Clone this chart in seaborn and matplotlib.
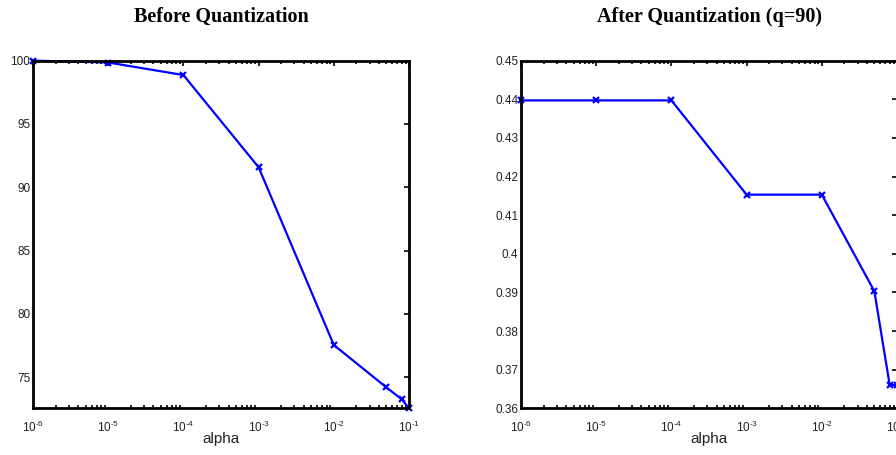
import numpy as np
import pandas as pd
import matplotlib
matplotlib.use("Agg")
import matplotlib.pyplot as plt
import matplotlib.ticker as mticker
import seaborn as sns

# regularisation weights swept in both experiments
alpha = [1e-6, 1e-5, 1e-4, 1e-3, 1e-2, 0.05, 0.08, 0.1]
# accuracy before quantization (%)
acc_before = [100.0, 99.85, 98.86, 91.58, 77.55, 74.2, 73.26, 72.55]
# score after quantization with q=90
acc_after = [0.4397, 0.4397, 0.4397, 0.4153, 0.4153, 0.3903, 0.3660, 0.3660]

titles = ["Before Quantization", "After Quantization (q=90)"]
xticks = [1e-6, 1e-5, 1e-4, 1e-3, 1e-2, 1e-1]

sns.set_theme(style="white")
plt.rcParams["font.family"] = ["Liberation Sans", "DejaVu Sans"]
plt.rcParams["mathtext.fontset"] = "custom"
plt.rcParams["mathtext.rm"] = "Liberation Sans"
plt.rcParams["mathtext.it"] = "Liberation Sans"
plt.rcParams["axes.unicode_minus"] = False


def pow10_label(v, pos):
    # plain hyphen in the exponent, e.g. 10^-3
    e = int(round(np.log10(v)))
    return r"$10^{\text{%d}}$" % e


fig = plt.figure(figsize=(8.96, 4.55), dpi=100)
ax1 = fig.add_axes([33 / 896, 1 - 408.3 / 455, 376 / 896, 347.7 / 455])
ax2 = fig.add_axes([521 / 896, 1 - 408.3 / 455, 376 / 896, 347.7 / 455])

df1 = pd.DataFrame({"alpha": alpha, "value": acc_before})
df2 = pd.DataFrame({"alpha": alpha, "value": acc_after})

for ax, df, title in [(ax1, df1, titles[0]), (ax2, df2, titles[1])]:
    sns.lineplot(data=df, x="alpha", y="value", ax=ax, color="#0000ff",
                 marker="x", markersize=5, markeredgewidth=1.6,
                 markeredgecolor="#0000ff", linewidth=1.6, clip_on=False)
    ax.set_xscale("log")
    ax.set_xlim(1e-6, 1e-1)
    ax.set_xticks(xticks)
    ax.xaxis.set_minor_locator(mticker.LogLocator(base=10, subs=np.arange(2, 10), numticks=20))
    ax.xaxis.set_minor_formatter(mticker.NullFormatter())
    ax.xaxis.set_major_formatter(mticker.FuncFormatter(pow10_label))
    ax.tick_params(axis="both", which="both", direction="in", top=True, right=True,
                   colors="black", labelcolor="#222222", labelsize=8.5, width=1.2)
    ax.tick_params(axis="both", which="major", length=3.5)
    ax.tick_params(axis="x", which="minor", length=2, bottom=True, top=True)
    ax.tick_params(axis="x", which="major", pad=8)
    ax.tick_params(axis="y", which="major", pad=2)
    for s in ax.spines.values():
        s.set_color("black")
        s.set_linewidth(2.0)
        s.set_visible(True)
    ax.set_xlabel("alpha", fontsize=11, labelpad=-2, color="#222222")
    ax.set_ylabel("")
    ax.set_title(title, fontsize=14.5, fontweight="bold", family="Liberation Serif",
                 pad=28, color="black")
    ax.grid(False)

ax1.set_ylim(72.55, 100)
ax1.set_yticks([75, 80, 85, 90, 95, 100])
ax2.set_ylim(0.36, 0.45)
ax2.set_yticks([0.36, 0.37, 0.38, 0.39, 0.40, 0.41, 0.42, 0.43, 0.44, 0.45])
ax2.yaxis.set_major_formatter(mticker.FormatStrFormatter("%g"))
ax1.yaxis.set_major_formatter(mticker.FormatStrFormatter("%g"))

fig.savefig("out.png", dpi=100)
